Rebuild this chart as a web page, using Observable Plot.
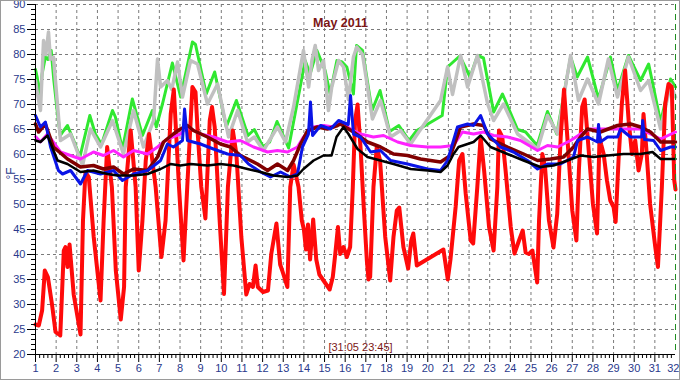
<!DOCTYPE html>
<html>
<head>
<meta charset="utf-8">
<script src="https://cdn.jsdelivr.net/npm/d3@7"></script>
<script src="https://cdn.jsdelivr.net/npm/@observablehq/plot@0.6"></script>
<style>
  html, body { margin: 0; padding: 0; background: #fff; }
  #chart svg { display: block; outline: 1px solid #9a9a9a; outline-offset: -1px; }
</style>
</head>
<body>
<div id="chart"></div>
<script>
// ---- data: [day of May, °F] ----
const title = "May 2011";
const stamp = "[31:05 23:45]";
const unitLabel = "°F";
const yMajor = [20, 25, 30, 35, 40, 45, 50, 55, 60, 65, 70, 75, 80, 85, 90];
const xMajor = [1,2,3,4,5,6,7,8,9,10,11,12,13,14,15,16,17,18,19,20,21,22,23,24,25,26,27,28,29,30,31,32];
const nowDay = [32];

const red = [[1.0,26],[1.16,25.8],[1.32,28.8],[1.45,36.8],[1.6,35.5],[1.8,30],[1.97,24.5],[2.2,23.8],[2.37,40.8],[2.45,41.5],[2.55,37.5],[2.65,42],[2.85,32],[3.18,24],[3.3,46.8],[3.42,56.5],[3.58,55.5],[3.82,43.5],[4.15,30.8],[4.3,46.8],[4.47,61.5],[4.7,53.5],[4.89,36.8],[5.13,27],[5.29,33.5],[5.37,53.5],[5.61,64.8],[5.85,53.5],[6.0,36.8],[6.18,46.8],[6.34,58.8],[6.5,64.1],[6.82,53.5],[7.1,39.5],[7.3,46.8],[7.55,68.1],[7.7,73],[7.95,53.5],[8.17,38.8],[8.35,53.5],[8.6,73.5],[8.75,72.5],[8.87,63.5],[9.03,53.5],[9.23,47.2],[9.44,66.8],[9.55,69.5],[9.68,65.5],[9.92,46.8],[10.13,32.1],[10.32,53.5],[10.56,64.8],[10.73,60.1],[10.97,43.5],[11.21,32],[11.37,34.1],[11.53,33.5],[11.66,37.8],[11.77,33.5],[12.02,32.5],[12.26,32.8],[12.42,40.1],[12.67,46.2],[12.85,38],[12.95,36.8],[13.2,33.5],[13.34,53.5],[13.5,58],[13.74,53.5],[13.9,46.8],[14.0,45],[14.1,41],[14.2,46],[14.3,39],[14.45,47],[14.6,39],[14.75,36],[15.0,34.5],[15.25,33],[15.4,35.5],[15.52,40.1],[15.65,45.5],[15.76,40.1],[15.92,41.5],[16.08,39.5],[16.24,41.5],[16.37,53.5],[16.48,66.8],[16.6,70],[16.75,61],[16.89,50.1],[17.05,38.8],[17.13,35],[17.21,35.5],[17.37,53.5],[17.53,61.5],[17.69,58.8],[17.94,43.5],[18.18,34.8],[18.34,43.5],[18.5,48.8],[18.62,49.4],[18.82,41.5],[19.05,37.2],[19.2,42.8],[19.3,44.2],[19.47,37.8],[20.76,41],[20.97,35],[21.1,39],[21.35,49.5],[21.52,58.8],[21.68,60.1],[21.84,52.1],[22.08,42.8],[22.2,42.2],[22.4,53.5],[22.56,63.5],[22.73,56.8],[22.97,45.5],[23.19,40.8],[23.37,53.5],[23.45,64.8],[23.61,63.5],[23.77,56.8],[24.02,45.5],[24.2,40.2],[24.42,42.8],[24.6,44.8],[24.74,40.4],[24.9,40.1],[25.07,40.8],[25.3,34.4],[25.39,46.8],[25.55,60.1],[25.68,57.5],[25.87,46.8],[26.09,41.4],[26.27,48.1],[26.44,63.5],[26.6,73],[26.76,63.5],[27.0,48.8],[27.2,42.8],[27.32,56.8],[27.48,69.5],[27.6,71],[27.81,60.1],[28.0,50.1],[28.2,44.2],[28.32,63.5],[28.4,62],[28.52,60.1],[28.68,54.8],[28.84,50.8],[29.0,49.5],[29.1,46.5],[29.24,58.8],[29.4,70.1],[29.56,76.8],[29.73,66.8],[29.89,60.1],[30.05,62.8],[30.21,56.8],[30.37,60.1],[30.45,68.1],[30.58,61.5],[30.77,50.1],[31.02,41.5],[31.15,37.5],[31.34,53.5],[31.5,70.1],[31.66,74.1],[31.82,73.5],[31.94,54.8],[32.0,53]];

const green = [[1.0,77],[1.08,75.5],[1.2,71.5],[1.32,76.1],[1.48,79.5],[1.6,79],[1.76,80.8],[1.89,74.8],[2.05,68.8],[2.2,63.8],[2.37,64.8],[2.55,65.8],[2.85,62.8],[3.15,59.5],[3.34,62.8],[3.63,67.8],[3.9,64.1],[4.2,62],[4.47,65.5],[4.73,68.8],[4.87,67.5],[5.21,61],[5.69,71.1],[6.18,63.8],[6.66,68.8],[6.85,65.5],[7.15,70.1],[7.63,78.3],[8.03,71.5],[8.6,82.5],[8.75,82],[9.27,72.1],[9.68,76.5],[10.24,65.5],[10.73,70.8],[11.29,63.8],[11.6,65],[12.02,61.5],[12.34,62.5],[12.7,66.6],[13.26,61.3],[13.82,73.5],[14.06,78.8],[14.3,76.1],[14.63,80.8],[15.03,76.8],[15.27,72.1],[15.6,78.8],[15.85,78.5],[16.08,77.5],[16.4,72.1],[16.55,81.8],[16.84,80.8],[17.3,68.8],[17.69,72.8],[18.15,64.6],[18.6,65.8],[19.1,62.8],[19.47,64.8],[20.7,67.8],[20.96,77.5],[21.55,79.7],[22.05,75.5],[22.41,79.8],[22.7,79.3],[23.19,68.5],[23.62,72.1],[24.35,65],[24.74,64.5],[25.3,61.8],[25.8,68.6],[26.25,64.1],[26.92,79.5],[27.24,75.5],[27.74,79.5],[28.27,71.1],[28.85,79.5],[29.19,72.8],[29.72,79.8],[30.31,74.8],[30.7,78.1],[31.28,66.5],[31.76,75.1],[32.0,73.5]];

const gray = [[1.0,74.8],[1.1,72],[1.24,68.8],[1.39,82.8],[1.5,80],[1.63,84.5],[1.72,79],[1.87,79.5],[2.21,62.8],[2.7,64.1],[3.28,57.8],[3.66,65.1],[4.15,61.5],[4.73,66.8],[5.26,60.1],[5.75,68.8],[6.23,61.5],[6.72,66.8],[6.91,79.1],[7.06,73.5],[7.39,74.8],[7.6,73],[7.88,78.5],[8.12,71.5],[8.51,78.8],[8.85,78.1],[9.33,70.1],[9.82,74.1],[10.35,63.5],[10.79,68.8],[11.27,62.5],[11.6,63.5],[12.04,60.8],[12.72,65.5],[13.11,62.5],[13.5,69.5],[13.98,80.8],[14.23,73.5],[14.39,78.8],[14.55,81.8],[14.71,76.8],[14.95,78.8],[15.19,68.8],[15.35,73.5],[15.68,78.8],[15.92,77.5],[16.16,71],[16.4,79.5],[16.56,81.5],[16.84,80],[17.32,67.1],[17.71,70.8],[18.2,63.5],[18.68,64.8],[19.17,62.1],[19.5,64.1],[20.62,70.8],[20.96,77.5],[21.2,72],[21.59,79.8],[21.93,73.5],[22.41,79.8],[22.9,70.1],[23.19,66.8],[23.67,70.1],[24.35,64.1],[25.32,61.1],[25.8,67.8],[26.29,64.1],[26.92,79.8],[27.3,70.8],[27.74,75.1],[28.27,70.1],[28.75,79.1],[29.19,71.5],[29.72,79.5],[30.31,72.8],[30.7,74.8],[31.28,65.1],[31.76,74.1],[32.0,71.5]];

const magenta = [[1.0,63.6],[1.24,62.5],[1.58,64.1],[2.21,60.5],[3.18,59.1],[3.81,60.5],[4.29,59.8],[4.78,60.8],[5.26,59.5],[5.75,60.8],[6.43,60.1],[6.91,61.5],[7.39,63.1],[8.02,64.1],[8.36,65.5],[8.99,64.1],[9.62,63.5],[10.3,62.5],[10.93,62.8],[11.56,61.5],[12.24,60.5],[12.72,60.8],[13.21,60.5],[13.69,61.5],[13.98,63.5],[14.47,65.5],[14.95,65.8],[15.44,65.5],[15.77,66.5],[16.26,65.1],[16.74,64.1],[17.37,63.5],[17.86,63.8],[18.54,62.5],[19.17,61.8],[19.99,61.5],[20.62,61.5],[21.25,61.8],[21.68,64.5],[22.22,64.1],[22.7,64.5],[23.19,63.8],[23.86,63.5],[24.49,62.8],[25.32,60.8],[25.8,61.8],[26.29,61.5],[26.92,62.8],[27.4,64.1],[27.89,65.1],[28.71,65.1],[29.48,65.1],[30.31,65.1],[30.79,64.1],[31.28,63.1],[32.0,64.5]];

const maroon = [[1.0,66.1],[1.15,64.5],[1.48,66.1],[1.87,61.5],[2.55,59.1],[3.18,57.5],[3.81,57.8],[4.29,57.1],[4.78,57.5],[5.26,56.1],[5.75,57.1],[6.43,56.8],[6.91,59.5],[7.2,62.5],[7.68,64.1],[8.02,65.1],[8.36,65.8],[8.65,64.8],[9.33,63.5],[9.96,62.1],[10.45,61.5],[10.93,59.8],[11.75,58.1],[12.24,56.8],[12.72,58.1],[13.21,56.8],[13.5,58.8],[13.84,62.1],[14.18,64.8],[14.66,65.5],[15.14,65.1],[15.63,65.8],[15.77,66.1],[16.4,64.5],[17.08,62.5],[17.71,61.5],[18.34,60.1],[19.02,59.8],[19.65,59.1],[20.62,58.5],[21.1,59.8],[21.59,65.5],[22.22,66.1],[22.7,65.8],[23.04,63.1],[23.86,61.5],[24.64,60.1],[25.32,58.8],[25.95,59.1],[26.58,59.5],[27.06,61.5],[27.4,63.5],[27.74,65.1],[28.36,64.5],[29.19,65.8],[29.82,66.1],[30.31,65.5],[30.79,64.5],[31.28,62.5],[32.0,62.5]];

const blue = [[1.0,67.8],[1.24,65.5],[1.48,66.5],[1.73,61.5],[2.11,56.8],[2.31,56.1],[2.7,56.8],[3.18,54.1],[3.52,56.8],[4.15,56.1],[4.78,56.8],[5.21,54.8],[5.75,56.1],[6.43,56.8],[7.06,58.8],[7.39,62.1],[7.68,61.5],[8.12,62.8],[8.22,69.1],[8.36,62.8],[8.99,62.1],[9.62,61.1],[10.3,60.1],[10.93,59.8],[11.32,58.1],[11.9,56.5],[12.38,55.5],[12.87,56.5],[13.35,55.5],[13.69,56.1],[13.93,61.5],[14.22,64.1],[14.32,70.5],[14.42,63.8],[14.81,65.8],[15.29,65.1],[15.68,66.8],[16.15,66],[16.26,71.8],[16.4,64.1],[16.74,63.5],[17.23,60.5],[17.71,60.8],[18.2,58.8],[19.02,58.1],[19.99,57.1],[20.62,56.8],[20.96,58.8],[21.44,65.5],[21.93,66.1],[22.22,65.8],[22.56,67.8],[22.9,64.1],[23.53,61.5],[24.15,60.5],[24.83,58.8],[25.32,57.1],[25.8,58.1],[26.43,58.1],[27.06,59.5],[27.26,62.8],[27.74,63.5],[28.22,62.5],[28.27,66],[28.36,62.5],[28.71,63.5],[29.19,63.5],[29.34,65.1],[29.82,63.5],[30.36,63.5],[30.41,66.8],[30.5,63],[30.94,62.8],[31.28,60.8],[31.76,61.5],[32.0,61.5]];

const black = [[1.0,62.8],[1.24,62.5],[1.58,63.8],[2.07,58.8],[2.55,58.1],[3.18,56.5],[3.81,56.8],[4.49,56.1],[4.97,55.8],[5.75,55.8],[6.43,56.1],[7.06,57.1],[7.54,58.1],[8.02,57.8],[8.51,58.1],[9.33,57.8],[9.96,58.1],[10.59,57.8],[11.27,57.1],[11.9,56.5],[12.53,55.8],[13.21,55.5],[13.69,55.8],[13.98,57.1],[14.47,58.8],[14.95,59.8],[15.34,59.8],[15.58,63.5],[15.92,65.5],[16.16,64.1],[16.6,61.1],[17.08,59.5],[17.71,58.8],[18.34,58.1],[19.17,57.1],[19.99,56.8],[20.62,56.5],[20.96,57.8],[21.25,60.1],[21.49,61.5],[21.93,62.1],[22.22,62.5],[22.56,63.8],[23.04,61.5],[23.86,60.1],[24.64,58.8],[25.46,57.5],[26.09,57.8],[26.77,58.8],[27.4,59.8],[28.03,59.5],[28.71,59.8],[29.48,60.1],[30.31,60.1],[30.89,60.5],[31.28,59.1],[32.0,59.1]];

// ---- chart ----
const yMinor = d3.range(20, 91, 1).filter(v => v % 5 !== 0);
const xMinor = d3.range(1, 32.001, 0.2).filter(v => Math.abs(v - Math.round(v)) > 1e-6);
const gridDash = "3,3";
const line = (data, stroke, w) => Plot.line(data, {x: d => d[0], y: d => d[1], stroke, strokeWidth: w, strokeLinejoin: "round", strokeLinecap: "round"});

const chart = Plot.plot({
  width: 680,
  height: 380,
  marginLeft: 35,
  marginRight: 5,
  marginTop: 4,
  marginBottom: 26,
  style: {fontFamily: "'Liberation Sans', Arial, sans-serif", fontSize: "11px", background: "#fff", color: "#000"},
  x: {domain: [1, 32], axis: null},
  y: {domain: [20, 90], axis: null},
  marks: [
    Plot.gridX(xMajor.slice(1, -1), {stroke: "#7a7a7a", strokeOpacity: 1, strokeDasharray: gridDash}),
    Plot.gridY(yMajor.slice(1), {stroke: "#7a7a7a", strokeOpacity: 1, strokeDasharray: gridDash}),
    line(green, "#30e830", 3),
    line(gray, "#c0c0c0", 3.5),
    line(red, "#ff0a0a", 4),
    line(magenta, "#ff22ff", 3),
    line(maroon, "#800000", 3.5),
    line(blue, "#0a14e6", 3),
    line(black, "#000000", 2.5),
    Plot.ruleX(nowDay, {stroke: "#1f8f1f", strokeDasharray: "6,4", strokeWidth: 1}),
    Plot.ruleX([1], {stroke: "#000"}),
    Plot.ruleY([20], {stroke: "#000"}),
    Plot.axisY(yMajor, {tickSize: 8, tickPadding: 2, stroke: "#000", fill: "#2a3a8c", fontSize: 11, label: null, tickFormat: d => String(d)}),
    Plot.axisY(yMinor, {tickSize: 4, stroke: "#000", label: null, tickFormat: () => ""}),
    Plot.axisX(xMajor.slice(0, -1), {tickSize: 8, tickPadding: 2, stroke: "#000", fill: "#2a3a8c", fontSize: 11, label: null, tickFormat: d => String(d)}),
    Plot.axisX(xMajor.slice(-1), {tickSize: 8, tickPadding: 2, stroke: "#000", fill: "#2a3a8c", fontSize: 11, label: null, textAnchor: "end", dx: 4, tickFormat: d => String(d)}),
    Plot.axisX(xMinor, {tickSize: 4, stroke: "#000", label: null, tickFormat: () => ""}),
    Plot.text([title], {text: d => d, frameAnchor: "top", dx: -15, dy: 14, fontWeight: "bold", fontSize: 12.5, fill: "#7b1616"}),
    Plot.text([stamp], {text: d => d, frameAnchor: "bottom", dx: 5, dy: -4, fontSize: 11, fill: "#7b1616"}),
    Plot.text([unitLabel], {text: d => d, frameAnchor: "left", dx: -24, rotate: -90, fontSize: 12, fill: "#2a3a8c"})
  ]
});
document.getElementById("chart").append(chart);
</script>
</body>
</html>
